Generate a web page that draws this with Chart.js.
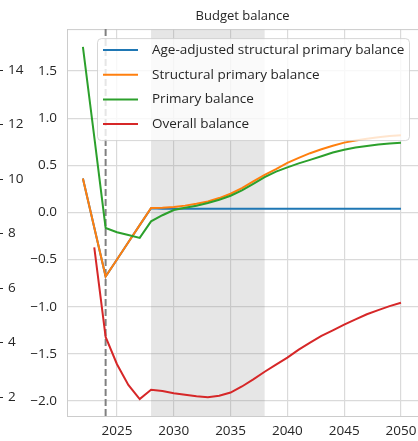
<!DOCTYPE html>
<html><head><meta charset="utf-8">
<script src="https://cdn.jsdelivr.net/npm/chart.js@4"></script>
<style>html,body{margin:0;padding:0;background:#fff;overflow:hidden}</style>
</head><body>
<canvas id="c" width="418" height="441" style="display:block;width:418px;height:441px"></canvas>
<script>
const years = [2022,2023,2024,2025,2026,2027,2028,2029,2030,2031,2032,2033,2034,2035,2036,2037,2038,2039,2040,2041,2042,2043,2044,2045,2046,2047,2048,2049,2050];
const ageAdjusted = [0.36,-0.16,-0.68,-0.50,-0.317,-0.135,0.045,0.04,0.04,0.04,0.04,0.04,0.04,0.04,0.04,0.04,0.04,0.04,0.04,0.04,0.04,0.04,0.04,0.04,0.04,0.04,0.04,0.04,0.04];
const structuralPrimary = [0.36,-0.16,-0.68,-0.50,-0.317,-0.135,0.047,0.05,0.057,0.072,0.092,0.116,0.152,0.198,0.258,0.328,0.398,0.459,0.525,0.578,0.628,0.67,0.707,0.74,0.762,0.78,0.797,0.81,0.818];
const primaryBalance = [1.755,0.80,-0.165,-0.21,-0.24,-0.27,-0.095,-0.03,0.025,0.05,0.071,0.099,0.134,0.177,0.233,0.303,0.374,0.433,0.478,0.52,0.557,0.595,0.635,0.665,0.688,0.705,0.72,0.732,0.74];
const overallBalance = [null,-0.37,-1.32,-1.61,-1.83,-1.98,-1.88,-1.895,-1.917,-1.934,-1.95,-1.96,-1.945,-1.91,-1.846,-1.77,-1.69,-1.615,-1.54,-1.455,-1.38,-1.31,-1.25,-1.19,-1.134,-1.08,-1.036,-0.994,-0.958];
const seriesLabels = ['Age-adjusted structural primary balance','Structural primary balance','Primary balance','Overall balance'];
const seriesColors = ['#1f77b4','#ff7f0e','#2ca02c','#d62728'];
const xTicks = [2025,2030,2035,2040,2045,2050];
const yTicks = [-2.0,-1.5,-1.0,-0.5,0.0,0.5,1.0,1.5];
const leftTicks = [2,4,6,8,10,12,14];
const shadeRange = [2028,2038];
const markerYear = 2024;
const titleText = 'Budget balance';

const FONT = "'Open Sans', 'DejaVu Sans', sans-serif";
const TXT = '#262626';

function pts(vals){ return years.map((yr,i)=>({x:yr,y:vals[i]})); }
const allSeries = [ageAdjusted, structuralPrimary, primaryBalance, overallBalance];

const decor = {
  id:'decor',
  beforeDatasetsDraw(chart){
    const {ctx, chartArea:a, scales:{x}} = chart;
    ctx.save();
    const x0 = x.getPixelForValue(shadeRange[0]), x1 = x.getPixelForValue(shadeRange[1]);
    ctx.fillStyle = 'rgba(128,128,128,0.2)';
    ctx.fillRect(x0, a.top, x1-x0, a.bottom-a.top);
    ctx.strokeStyle = '#cccccc'; ctx.lineWidth = 1;
    ctx.beginPath(); ctx.moveTo(a.left, a.top+0.5); ctx.lineTo(a.right, a.top+0.5); ctx.stroke();
    const xm = x.getPixelForValue(markerYear);
    ctx.strokeStyle = '#808080'; ctx.lineWidth = 2; ctx.setLineDash([7,3]);
    ctx.beginPath(); ctx.moveTo(xm, a.top); ctx.lineTo(xm, a.bottom); ctx.stroke();
    ctx.restore();
  },
  afterDatasetsDraw(chart){
    const {ctx, chartArea:a} = chart;
    const lw = 312, lh = 102;
    const lx = a.right - 9 - lw, ly = a.top + 9;
    ctx.save();
    ctx.beginPath();
    ctx.roundRect(lx+0.5, ly+0.5, lw, lh, 4);
    ctx.fillStyle = 'rgba(255,255,255,0.8)'; ctx.fill();
    ctx.strokeStyle = 'rgba(204,204,204,0.8)'; ctx.lineWidth = 1; ctx.stroke();
    ctx.font = '13.5px ' + FONT; ctx.textBaseline = 'middle'; ctx.fillStyle = TXT;
    seriesLabels.forEach((lab,i)=>{
      const yy = ly + 12 + i*24.67;
      ctx.strokeStyle = seriesColors[i]; ctx.lineWidth = 2;
      ctx.beginPath(); ctx.moveTo(lx+6, yy); ctx.lineTo(lx+41, yy); ctx.stroke();
      ctx.fillText(lab, lx+55, yy);
    });
    ctx.restore();
  }
};

new Chart(document.getElementById('c'), {
  type:'line',
  data:{ datasets: allSeries.map((v,i)=>({label:seriesLabels[i], data:pts(v), order:allSeries.length-1-i, borderColor:seriesColors[i], backgroundColor:seriesColors[i], borderWidth:2, pointRadius:0, tension:0, fill:false})) },
  options:{
    responsive:false, animation:false, devicePixelRatio:1,
    layout:{padding:{left:0,right:0,top:0,bottom:0}},
    plugins:{
      legend:{display:false}, tooltip:{enabled:false},
      title:{display:true, text:titleText, color:TXT, font:{family:FONT, size:13, weight:'normal'}, padding:{top:8.5,bottom:5}, fullSize:false}
    },
    scales:{
      x:{type:'linear', min:2020.6, max:2051.5,
        afterBuildTicks:s=>{s.ticks = xTicks.map(v=>({value:v}));},
        afterFit:s=>{s.height = 25; s.paddingLeft = 0; s.paddingRight = 0;},
        ticks:{color:TXT, font:{family:FONT,size:13.5}, padding:7, maxRotation:0, callback:v=>String(v)},
        grid:{color:'#dadada', lineWidth:1.2, drawTicks:false},
        border:{display:true, color:'#cccccc', width:1}},
      y:{type:'linear', position:'left', weight:0, min:-2.159, max:1.944,
        afterBuildTicks:s=>{s.ticks = yTicks.map(v=>({value:v}));},
        afterFit:s=>{s.width = 64; s.paddingTop = 0; s.paddingBottom = 0;},
        ticks:{color:TXT, font:{family:FONT,size:13.5}, padding:10, callback:v=>(v<0?'\u2212':'')+Math.abs(v).toFixed(1)},
        grid:{color:'#dadada', lineWidth:1.2, drawTicks:false},
        border:{display:true, color:'#cccccc', width:1}},
      y2:{type:'linear', position:'left', weight:10, min:1.303, max:15.505,
        afterBuildTicks:s=>{s.ticks = leftTicks.map(v=>({value:v}));},
        afterFit:s=>{s.width = 3; s.paddingTop = 0; s.paddingBottom = 0;},
        ticks:{mirror:true, color:TXT, font:{family:FONT,size:13.5}, padding:5, callback:v=>String(v)},
        grid:{display:true, drawOnChartArea:false, drawTicks:true, tickLength:3, tickColor:TXT, tickWidth:1},
        border:{display:false}}
    }
  },
  plugins:[decor]
});
</script>
</body></html>
